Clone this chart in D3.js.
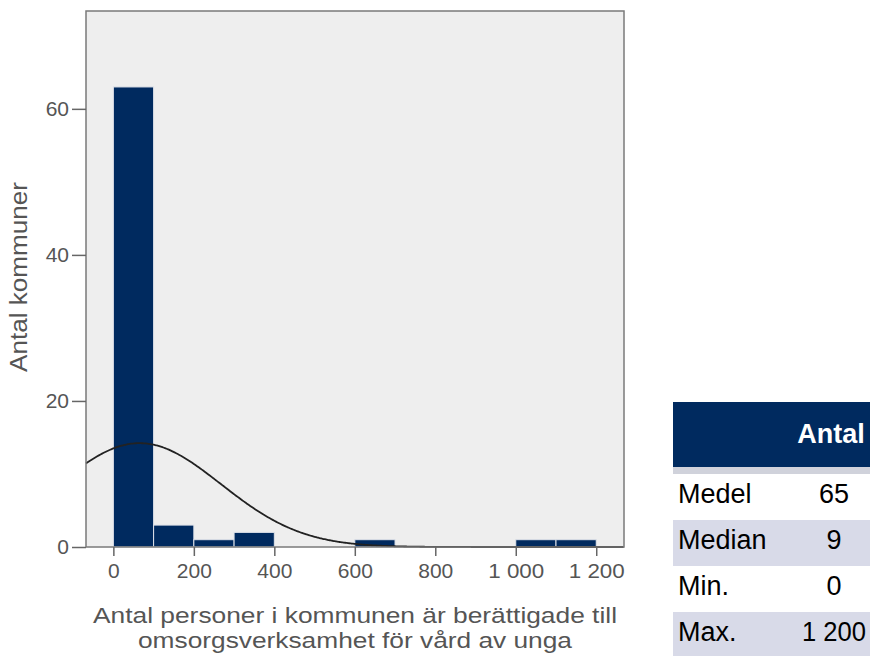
<!DOCTYPE html>
<html>
<head>
<meta charset="utf-8">
<script src="https://cdn.jsdelivr.net/npm/d3@7"></script>
<style>
  body { margin: 0; background: #fff; }
  text { font-family: "Liberation Sans", Arial, sans-serif; }
</style>
</head>
<body>
<div id="chart"></div>
<script>
(function() {

    // histogram bins (start of bin, width 100) and counts
    const binStarts = [0, 100, 200, 300, 600, 1000, 1100];
    const binCounts = [63, 3, 1, 2, 1, 1, 1];
    const binWidth = 100;
    const xTicks = [0, 200, 400, 600, 800, 1000, 1200];
    const yTicks = [0, 20, 40, 60];

    // normal curve parameters
    const mean = 65;
    const sd = 202;
    const n = 72;

    // summary table
    const statLabels = ["Medel", "Median", "Min.", "Max."];
    const statValues = ["65", "9", "0", "1 200"];

    const W = 870, H = 656;
    const plot = {left: 86, top: 11, right: 624, bottom: 547};

    let svg = d3.select("#chart").append("svg")
                .attr("width", W)
                .attr("height", H);

    let xScale = d3.scaleLinear()
                .domain([-68, 1269])
                .range([plot.left, plot.right]);

    let yScale = d3.scaleLinear()
                .domain([0, 73.4])
                .range([plot.bottom, plot.top]);

    svg.append("rect")
        .attr("x", plot.left).attr("y", plot.top)
        .attr("width", plot.right - plot.left)
        .attr("height", plot.bottom - plot.top)
        .attr("fill", "#eeeeee");

    // bars
    svg.selectAll(".bar")
        .data(binStarts)
        .enter().append("rect")
        .attr("class", "bar")
        .attr("x", d => xScale(d))
        .attr("y", (d, i) => yScale(binCounts[i]))
        .attr("width", xScale(binWidth) - xScale(0))
        .attr("height", (d, i) => yScale(0) - yScale(binCounts[i]))
        .attr("fill", "#002a5f")
        .attr("stroke", "#dfe3ea")
        .attr("stroke-width", 1);

    // normal curve
    const pts = d3.range(-68, 1269, 4).map(v => {
        const z = (v - mean) / sd;
        return [v, n * binWidth / (sd * Math.sqrt(2 * Math.PI)) * Math.exp(-0.5 * z * z)];
    });
    svg.append("path")
        .datum(pts)
        .attr("fill", "none")
        .attr("stroke", "#222")
        .attr("stroke-width", 1.8)
        .attr("d", d3.line().x(d => xScale(d[0])).y(d => yScale(d[1])).curve(d3.curveBasis));

    // frame
    svg.append("rect")
        .attr("x", plot.left).attr("y", plot.top)
        .attr("width", plot.right - plot.left)
        .attr("height", plot.bottom - plot.top)
        .attr("fill", "none")
        .attr("stroke", "#7a7a7a")
        .attr("stroke-width", 1.5);

    // axes
    let xAxis = svg.append("g")
        .attr("transform", "translate(0," + plot.bottom + ")")
        .call(d3.axisBottom(xScale).tickValues(xTicks).tickSize(9).tickPadding(7)
              .tickFormat(d => d3.format(",")(d).replace(",", " ")));
    let yAxis = svg.append("g")
        .attr("transform", "translate(" + plot.left + ",0)")
        .call(d3.axisLeft(yScale).tickValues(yTicks).tickSize(14).tickPadding(3));

    [xAxis, yAxis].forEach(a => {
        a.select(".domain").remove();
        a.selectAll("line").attr("stroke", "#666").attr("stroke-width", 1.5);
        a.selectAll("text").attr("fill", "#555").style("font-size", "21px");
    });
    xAxis.selectAll("text").attr("textLength", d => d >= 1000 ? 56 : null)
        .attr("lengthAdjust", "spacingAndGlyphs");

    svg.append("text")
        .attr("transform", "translate(27,277) rotate(-90)")
        .attr("text-anchor", "middle")
        .attr("fill", "#555")
        .style("font-size", "23px")
        .attr("textLength", 190)
        .attr("lengthAdjust", "spacingAndGlyphs")
        .text("Antal kommuner");

    svg.append("text")
        .attr("x", 355).attr("y", 623)
        .attr("text-anchor", "middle")
        .attr("fill", "#555")
        .style("font-size", "22px")
        .attr("textLength", 524)
        .attr("lengthAdjust", "spacingAndGlyphs")
        .text("Antal personer i kommunen är berättigade till");
    svg.append("text")
        .attr("x", 355).attr("y", 648)
        .attr("text-anchor", "middle")
        .attr("fill", "#555")
        .style("font-size", "22px")
        .attr("textLength", 434)
        .attr("lengthAdjust", "spacingAndGlyphs")
        .text("omsorgsverksamhet för vård av unga");

    // summary table
    const tx = 673, rowH = 46, rowTop = 474;
    svg.append("rect").attr("x", tx).attr("y", 402).attr("width", W - tx).attr("height", 65).attr("fill", "#002a5f");
    svg.append("rect").attr("x", tx).attr("y", 467).attr("width", W - tx).attr("height", 8).attr("fill", "#d0d2db");
    svg.append("text")
        .attr("x", 831).attr("y", 443)
        .attr("text-anchor", "middle")
        .attr("fill", "#fff")
        .style("font-size", "27px").style("font-weight", "bold")
        .text("Antal");

    let rows = svg.selectAll(".row")
        .data(statLabels)
        .enter().append("g")
        .attr("transform", (d, i) => "translate(0," + (rowTop + i * rowH) + ")");
    rows.append("rect")
        .attr("x", tx).attr("y", 0)
        .attr("width", W - tx).attr("height", rowH)
        .attr("fill", (d, i) => i % 2 ? "#d8dae8" : "#fff");
    rows.append("text")
        .attr("x", 678).attr("y", 29)
        .attr("fill", "#000")
        .style("font-size", "27px")
        .text(d => d);
    rows.append("text")
        .attr("x", 834).attr("y", 29)
        .attr("text-anchor", "middle")
        .attr("fill", "#000")
        .style("font-size", "27px")
        .attr("textLength", (d, i) => statValues[i].length > 3 ? 64 : null)
        .attr("lengthAdjust", "spacingAndGlyphs")
        .text((d, i) => statValues[i]);

})();
</script>
</body>
</html>
